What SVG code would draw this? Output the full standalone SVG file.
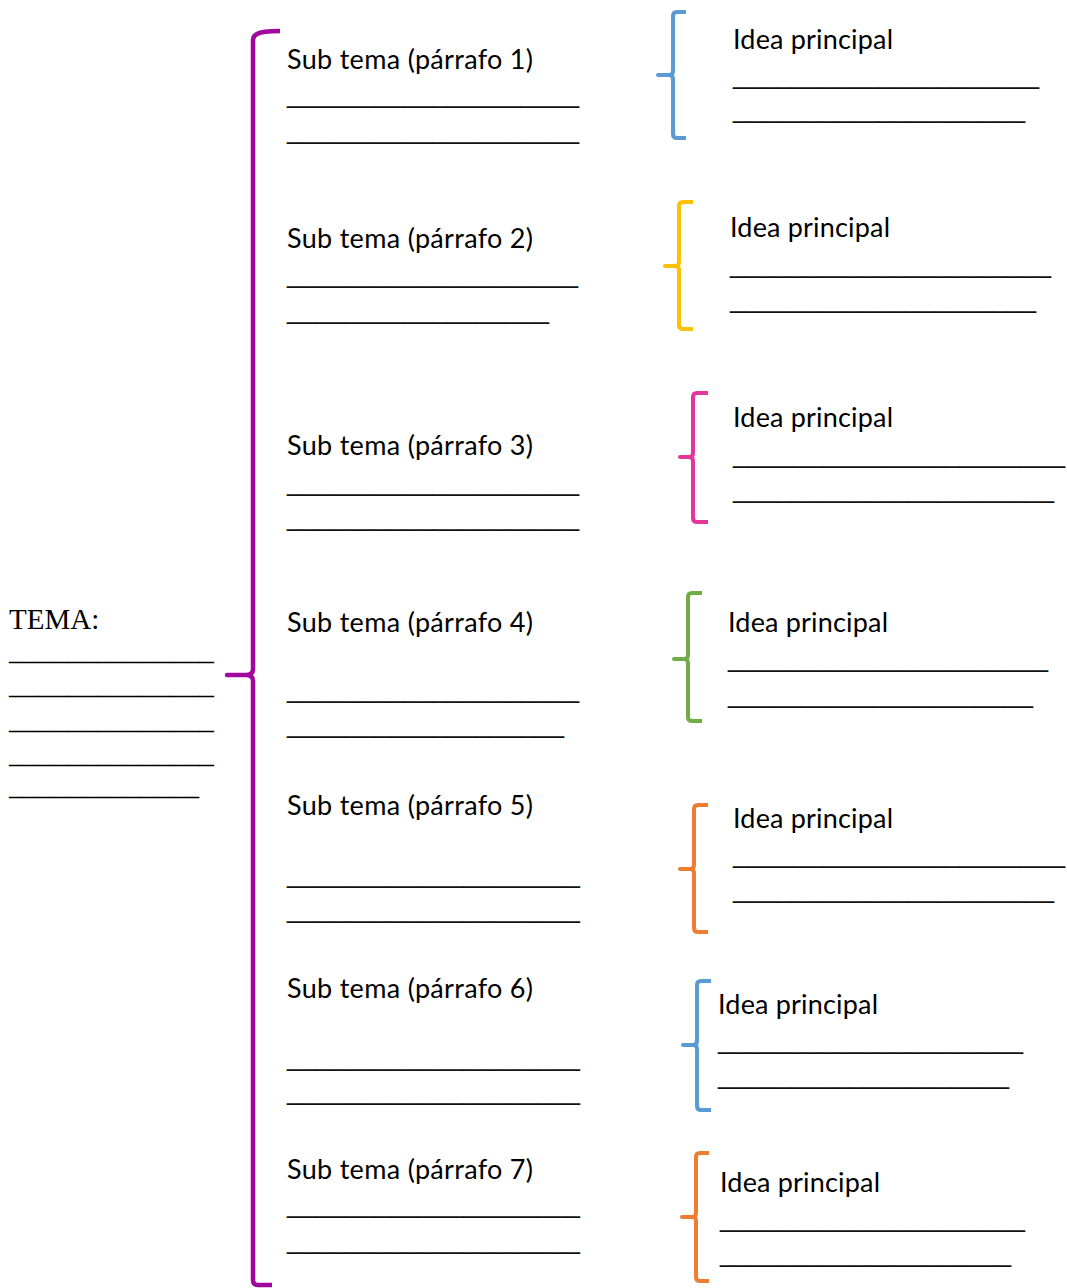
<svg xmlns="http://www.w3.org/2000/svg" width="1067" height="1288" viewBox="0 0 1067 1288">
<style>
.t{font-family:Lato,"Open Sans","Liberation Sans",sans-serif;font-size:27px;fill:#000}
.u{font-family:"Liberation Sans",Arial,sans-serif;font-size:27px;fill:#111}
.tm{font-family:"Liberation Serif","Times New Roman",serif;font-size:29px;fill:#000}
.br{fill:none;stroke-width:4;stroke-linejoin:round}
.purple{stroke:#A0089E;stroke-width:4.5}
.blue{stroke:#5B9BD5}
.yellow{stroke:#FFC000}
.pink{stroke:#E5379A}
.green{stroke:#70AD47}
.orange{stroke:#ED7D31}
</style>
<rect width="1067" height="1288" fill="#fff"/>
<g id="connectors">
<path class="br purple" d="M280,31 Q262,31 257,34 Q253,36 253,40 L253,669 Q253,675 246,675 L227,675 L246,675 Q253,675 253,681 L253,1280 Q253,1285 258,1285 L272,1285"/>
<path class="br blue" d="M686,12 L677,12 Q673,12 673,16 L673,71 Q673,75 669,75 L658,75 L669,75 Q673,75 673,79 L673,134 Q673,138 677,138 L686,138"/>
<path class="br yellow" d="M693,202 L683,202 Q679,202 679,206 L679,262 Q679,266 675,266 L665,266 L675,266 Q679,266 679,270 L679,325 Q679,329 683,329 L693,329"/>
<path class="br pink" d="M708,393 L697,393 Q693,393 693,397 L693,453 Q693,457 689,457 L680,457 L689,457 Q693,457 693,461 L693,518 Q693,522 697,522 L708,522"/>
<path class="br green" d="M702,593 L692,593 Q688,593 688,597 L688,655 Q688,659 684,659 L674,659 L684,659 Q688,659 688,663 L688,717 Q688,721 692,721 L702,721"/>
<path class="br orange" d="M708,805 L698,805 Q694,805 694,809 L694,865 Q694,869 690,869 L680,869 L690,869 Q694,869 694,873 L694,928 Q694,932 698,932 L708,932"/>
<path class="br blue" d="M711,981 L701,981 Q697,981 697,985 L697,1041 Q697,1045 693,1045 L683,1045 L693,1045 Q697,1045 697,1049 L697,1106 Q697,1110 701,1110 L711,1110"/>
<path class="br orange" d="M709,1153 L700,1153 Q696,1153 696,1157 L696,1213 Q696,1217 692,1217 L682,1217 L692,1217 Q696,1217 696,1221 L696,1277 Q696,1281 700,1281 L709,1281"/>
</g>
<g id="tema">
<text class="tm" x="9" y="629">TEMA:</text>
<text class="tm" x="9" y="660" textLength="205" lengthAdjust="spacingAndGlyphs">______________</text>
<text class="tm" x="9" y="694" textLength="205" lengthAdjust="spacingAndGlyphs">______________</text>
<text class="tm" x="9" y="729" textLength="205" lengthAdjust="spacingAndGlyphs">______________</text>
<text class="tm" x="9" y="763" textLength="205" lengthAdjust="spacingAndGlyphs">______________</text>
<text class="tm" x="9" y="795" textLength="190" lengthAdjust="spacingAndGlyphs">_____________</text>
</g>
<g id="sub1">
<text class="t" x="287" y="69" textLength="246">Sub tema (párrafo 1)</text>
<text class="u" x="287" y="102" textLength="292" lengthAdjust="spacingAndGlyphs">____________________</text>
<text class="u" x="287" y="138" textLength="292" lengthAdjust="spacingAndGlyphs">____________________</text>
</g>
<g id="sub2">
<text class="t" x="287" y="248" textLength="246">Sub tema (párrafo 2)</text>
<text class="u" x="287" y="282" textLength="291" lengthAdjust="spacingAndGlyphs">____________________</text>
<text class="u" x="287" y="318" textLength="262" lengthAdjust="spacingAndGlyphs">__________________</text>
</g>
<g id="sub3">
<text class="t" x="287" y="455" textLength="246">Sub tema (párrafo 3)</text>
<text class="u" x="287" y="490" textLength="292" lengthAdjust="spacingAndGlyphs">____________________</text>
<text class="u" x="287" y="525" textLength="292" lengthAdjust="spacingAndGlyphs">____________________</text>
</g>
<g id="sub4">
<text class="t" x="287" y="632" textLength="246">Sub tema (párrafo 4)</text>
<text class="u" x="287" y="697" textLength="292" lengthAdjust="spacingAndGlyphs">____________________</text>
<text class="u" x="287" y="732" textLength="277" lengthAdjust="spacingAndGlyphs">___________________</text>
</g>
<g id="sub5">
<text class="t" x="287" y="815" textLength="246">Sub tema (párrafo 5)</text>
<text class="u" x="287" y="882" textLength="293" lengthAdjust="spacingAndGlyphs">____________________</text>
<text class="u" x="287" y="917" textLength="293" lengthAdjust="spacingAndGlyphs">____________________</text>
</g>
<g id="sub6">
<text class="t" x="287" y="998" textLength="246">Sub tema (párrafo 6)</text>
<text class="u" x="287" y="1065" textLength="293" lengthAdjust="spacingAndGlyphs">____________________</text>
<text class="u" x="287" y="1099" textLength="293" lengthAdjust="spacingAndGlyphs">____________________</text>
</g>
<g id="sub7">
<text class="t" x="287" y="1179" textLength="246">Sub tema (párrafo 7)</text>
<text class="u" x="287" y="1212" textLength="293" lengthAdjust="spacingAndGlyphs">____________________</text>
<text class="u" x="287" y="1248" textLength="293" lengthAdjust="spacingAndGlyphs">____________________</text>
</g>
<g id="idea1">
<text class="t" x="733" y="49" textLength="160">Idea principal</text>
<text class="u" x="733" y="83" textLength="306" lengthAdjust="spacingAndGlyphs">_____________________</text>
<text class="u" x="733" y="117" textLength="292" lengthAdjust="spacingAndGlyphs">____________________</text>
</g>
<g id="idea2">
<text class="t" x="730" y="237" textLength="160">Idea principal</text>
<text class="u" x="730" y="272" textLength="321" lengthAdjust="spacingAndGlyphs">______________________</text>
<text class="u" x="730" y="307" textLength="306" lengthAdjust="spacingAndGlyphs">_____________________</text>
</g>
<g id="idea3">
<text class="t" x="733" y="427" textLength="160">Idea principal</text>
<text class="u" x="733" y="462" textLength="332" lengthAdjust="spacingAndGlyphs">______________________</text>
<text class="u" x="733" y="497" textLength="321" lengthAdjust="spacingAndGlyphs">______________________</text>
</g>
<g id="idea4">
<text class="t" x="728" y="632" textLength="160">Idea principal</text>
<text class="u" x="728" y="666" textLength="320" lengthAdjust="spacingAndGlyphs">______________________</text>
<text class="u" x="728" y="702" textLength="305" lengthAdjust="spacingAndGlyphs">_____________________</text>
</g>
<g id="idea5">
<text class="t" x="733" y="828" textLength="160">Idea principal</text>
<text class="u" x="733" y="862" textLength="332" lengthAdjust="spacingAndGlyphs">______________________</text>
<text class="u" x="733" y="897" textLength="321" lengthAdjust="spacingAndGlyphs">______________________</text>
</g>
<g id="idea6">
<text class="t" x="718" y="1014" textLength="160">Idea principal</text>
<text class="u" x="718" y="1048" textLength="305" lengthAdjust="spacingAndGlyphs">_____________________</text>
<text class="u" x="718" y="1083" textLength="291" lengthAdjust="spacingAndGlyphs">____________________</text>
</g>
<g id="idea7">
<text class="t" x="720" y="1192" textLength="160">Idea principal</text>
<text class="u" x="720" y="1226" textLength="305" lengthAdjust="spacingAndGlyphs">_____________________</text>
<text class="u" x="720" y="1261" textLength="291" lengthAdjust="spacingAndGlyphs">____________________</text>
</g>
</svg>
